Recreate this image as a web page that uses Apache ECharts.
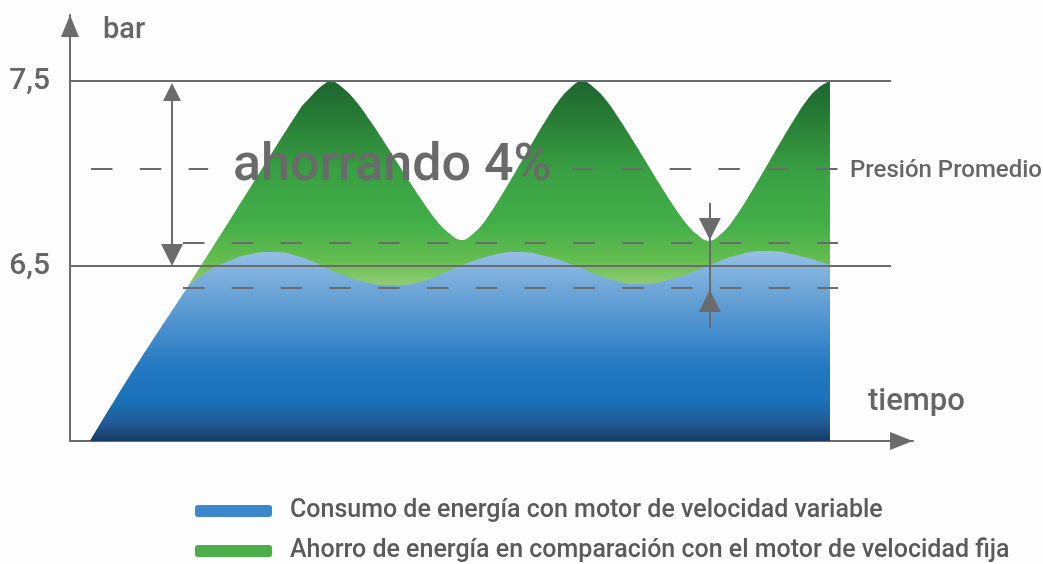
<!DOCTYPE html>
<html>
<head>
    <meta charset="utf-8">
    <title>ahorrando 4%</title>
    <style type="text/css">
        html, body { margin: 0; padding: 0; background: #fdfdfd; }
        #chart { width: 1043px; height: 564px; }
    </style>
</head>
<body>
<div id="chart"></div>
<script src="https://cdn.jsdelivr.net/npm/echarts@6/dist/echarts.min.js"></script>
<script>
    // tiempo (0..100) / presión en bar
    var ahorroData = [
        [2.37, 5.554], [10.68, 6.152], [18.98, 6.750], [27.28, 7.349], [28.35, 7.405],
        [29.36, 7.454], [30.13, 7.482], [30.84, 7.5],
        [32.41, 7.461], [33.97, 7.388], [35.54, 7.289], [37.11, 7.182], [38.67, 7.070],
        [40.24, 6.958], [41.80, 6.851], [43.37, 6.752], [44.93, 6.679], [46.50, 6.641],
        [47.92, 6.679], [49.35, 6.752], [50.77, 6.851], [52.19, 6.958], [53.62, 7.070],
        [55.04, 7.182], [56.46, 7.289], [57.89, 7.388], [59.31, 7.461], [60.74, 7.5],
        [62.24, 7.461], [63.75, 7.388], [65.25, 7.288], [66.76, 7.180], [68.27, 7.068],
        [69.77, 6.955], [71.28, 6.847], [72.79, 6.748], [74.29, 6.674], [75.80, 6.635],
        [77.24, 6.674], [78.67, 6.748], [80.11, 6.847], [81.54, 6.955], [82.98, 7.068],
        [84.41, 7.180], [85.85, 7.288], [87.28, 7.388], [88.72, 7.461], [90.15, 7.5]
    ];
    var consumoData = [
        [2.37, 5.554], [13.6, 6.36], [16.0, 6.46], [19.0, 6.53], [21.5, 6.565],
        [24.0, 6.576], [27.6, 6.545], [31.15, 6.475], [34.7, 6.418],
        [38.3, 6.397], [42.0, 6.42], [45.7, 6.489], [49.4, 6.55],
        [53.1, 6.576], [56.7, 6.55], [60.35, 6.495], [64.0, 6.43],
        [67.6, 6.403], [71.4, 6.43], [75.15, 6.49], [78.9, 6.555],
        [82.7, 6.581], [86.5, 6.555], [90.15, 6.505]
    ];
    var yTicks = [6.5, 7.5];
    var presionPromedio = 7.024;
    var bandaAlta = 6.624;
    var bandaBaja = 6.381;

    var nombreConsumo = 'Consumo de energía con motor de velocidad variable';
    var nombreAhorro = 'Ahorro de energía en comparación con el motor de velocidad fija';

    var gris = '#6b6b6b';
    var fuente = 'Roboto';

    var myChart = echarts.init(document.getElementById('chart'));

    var legendBase = {
        orient: 'vertical',
        left: 190,
        icon: 'roundRect',
        itemWidth: 77, itemHeight: 12,
        textStyle: {color: '#5a5a5a', fontFamily: fuente, fontWeight: 500, fontSize: 25, lineHeight: 26, padding: [0, 0, 0, 13]}
    };

    var option = {
        animation: false,
        grid: {left: 70, right: 130, top: 15, bottom: 123},
        xAxis: {
            type: 'value', min: 0, max: 100,
            axisLine: {
                show: true, symbol: ['none', 'triangle'], symbolSize: [18, 23], symbolOffset: [0, -11.5],
                lineStyle: {color: gris, width: 2}
            },
            axisTick: {show: false}, axisLabel: {show: false}, splitLine: {show: false}
        },
        yAxis: {
            type: 'value', min: 5.554, max: 7.857,
            axisLine: {
                show: true, symbol: ['none', 'triangle'], symbolSize: [18, 22], symbolOffset: [0, -11],
                lineStyle: {color: gris, width: 2}
            },
            axisTick: {show: false},
            splitLine: {show: false},
            axisLabel: {
                customValues: yTicks,
                margin: 20,
                color: '#666',
                fontFamily: fuente,
                fontWeight: 500,
                fontSize: 30,
                formatter: function (v) { return String(v).replace('.', ','); }
            }
        },
        legend: [
            Object.assign({}, legendBase, {top: 493, data: [nombreConsumo]}),
            Object.assign({}, legendBase, {top: 533, data: [nombreAhorro]})
        ],
        graphic: [
            {type: 'text', left: 103, top: 16, style: {text: 'bar', fill: '#666', font: '500 29px ' + fuente}},
            {type: 'text', left: 868, top: 387, style: {text: 'tiempo', fill: '#666', font: '500 31px ' + fuente}},
            {type: 'text', left: 850, top: 159, style: {text: 'Presión Promedio', fill: '#666', font: '500 24px ' + fuente}},
            {type: 'text', left: 233, top: 141, z: 20, style: {text: 'ahorrando 4%', fill: '#6a6a6a', font: '500 52px ' + fuente}}
        ],
        series: [
            {
                name: nombreAhorro, type: 'line', z: 2,
                data: ahorroData, smooth: 0.4, showSymbol: false,
                color: '#4cae4a',
                lineStyle: {width: 0},
                areaStyle: {
                    opacity: 1,
                    color: new echarts.graphic.LinearGradient(0, 0, 0, 1, [
                        {offset: 0, color: '#1c6630'},
                        {offset: 0.12, color: '#2a8037'},
                        {offset: 0.25, color: '#39a043'},
                        {offset: 0.4, color: '#43af48'},
                        {offset: 0.5, color: '#66bd50'},
                        {offset: 0.57, color: '#93cc75'},
                        {offset: 1, color: '#93cc75'}
                    ])
                }
            },
            {
                name: nombreConsumo, type: 'line', z: 3,
                data: consumoData, smooth: 0.5, showSymbol: false,
                color: '#3b86cc',
                lineStyle: {width: 0},
                areaStyle: {
                    opacity: 1,
                    color: new echarts.graphic.LinearGradient(0, 0, 0, 1, [
                        {offset: 0, color: '#95c0e5'},
                        {offset: 0.2, color: '#6fa6d8'},
                        {offset: 0.42, color: '#468ecd'},
                        {offset: 0.63, color: '#2177c0'},
                        {offset: 0.78, color: '#1a72bb'},
                        {offset: 0.9, color: '#215c97'},
                        {offset: 1, color: '#163a63'}
                    ])
                }
            },
            {
                // líneas de referencia 7,5 y 6,5 y la vertical de la derecha
                type: 'lines', coordinateSystem: 'cartesian2d', z: 5, symbol: 'none',
                lineStyle: {color: gris, width: 2, type: 'solid', opacity: 1},
                data: [
                    {coords: [[0, 7.5], [97.4, 7.5]]},
                    {coords: [[0, 6.5], [97.4, 6.5]]},
                    {coords: [[75.9, 6.841], [75.9, 6.165]]}
                ]
            },
            {
                type: 'lines', coordinateSystem: 'cartesian2d', z: 5, symbol: 'none',
                lineStyle: {color: gris, width: 2, type: [21.5, 27.3], opacity: 1},
                data: [
                    {coords: [[2.49, presionPromedio], [16.4, presionPromedio]]},
                    {coords: [[59.55, presionPromedio], [91.1, presionPromedio]]},
                    {coords: [[13.4, bandaAlta], [91.1, bandaAlta]]},
                    {coords: [[13.4, bandaBaja], [91.1, bandaBaja]]}
                ]
            },
            {
                type: 'lines', coordinateSystem: 'cartesian2d', z: 6,
                symbol: ['triangle', 'triangle'], symbolSize: [18, 22],
                lineStyle: {color: gris, width: 2, opacity: 1},
                data: [{coords: [[12.1, 7.441], [12.1, 6.559]]}]
            },
            {
                type: 'lines', coordinateSystem: 'cartesian2d', z: 6,
                symbol: ['none', 'triangle'], symbolSize: [18, 22],
                lineStyle: {color: gris, width: 2, opacity: 1},
                data: [
                    {coords: [[75.9, 6.841], [75.9, 6.70]]},
                    {coords: [[75.9, 6.165], [75.9, 6.311]]}
                ]
            }
        ]
    };

    option && myChart.setOption(option);
</script>
</body>
</html>
